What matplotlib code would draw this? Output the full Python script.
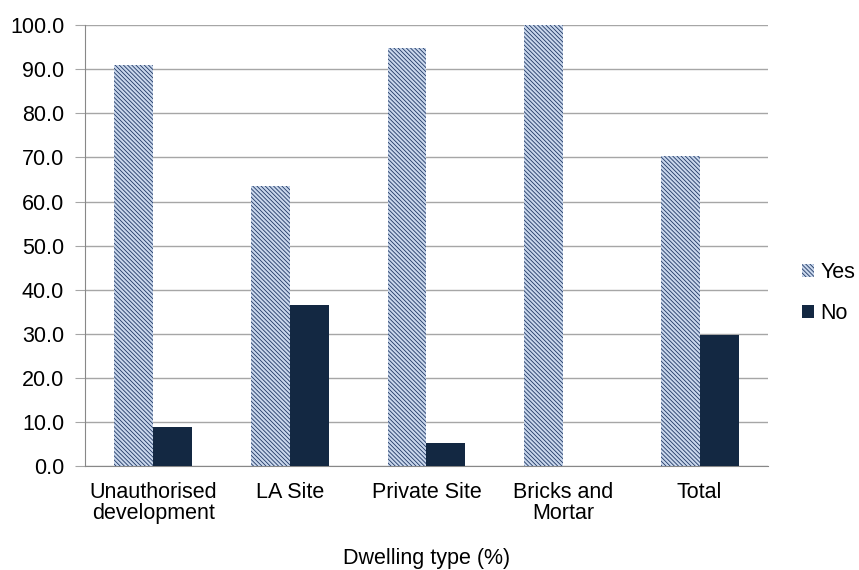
import numpy as np
import matplotlib.pyplot as plt

plt.rcParams['font.family'] = ['Liberation Sans', 'DejaVu Sans']
plt.rcParams['hatch.linewidth'] = 0.6
plt.rcParams['hatch.color'] = '#1f3864'

# data
categories = ['Unauthorised\ndevelopment', 'LA Site', 'Private Site', 'Bricks and\nMortar', 'Total']
yes_vals = [91.0, 63.5, 94.7, 100.0, 70.3]
no_vals = [9.0, 36.5, 5.3, 0.0, 29.7]

fig = plt.figure(figsize=(8.59, 5.70), dpi=100)
ax = fig.add_axes([0.099, 0.182, 0.795, 0.774])

x = np.arange(len(categories))
w = 0.285
fs = 15.5
ax.bar(x - w/2, yes_vals, w, facecolor='#c9d7ec', edgecolor='#1f3864',
       hatch='\\' * 8, linewidth=0, label='Yes', zorder=3)
ax.bar(x + w/2, no_vals, w, color='#132842', label='No', zorder=3)

ax.set_xlim(-0.5, len(categories) - 0.5)
ax.set_ylim(0, 100)
ax.set_yticks(np.arange(0, 101, 10))
ax.set_yticklabels(['%.1f' % v for v in np.arange(0, 101, 10)], fontsize=fs)
ax.set_xticks(x)
ax.set_xticklabels(categories, fontsize=fs, linespacing=1.05)
ax.tick_params(axis='x', length=0, pad=11)
ax.tick_params(axis='y', length=7, color='#a6a6a6', pad=8)
ax.grid(axis='y', color='#a6a6a6', linewidth=1, zorder=0)
for s in ['top', 'right']:
    ax.spines[s].set_visible(False)
ax.spines['left'].set_color('#888888')
ax.spines['bottom'].set_color('#888888')
ax.set_xlabel('Dwelling type (%)', fontsize=fs, labelpad=17)

leg = ax.legend(loc='center left', bbox_to_anchor=(1.022, 0.393), frameon=False,
                fontsize=fs, handlelength=0.55, handleheight=0.55,
                handletextpad=0.3, labelspacing=0.95)

fig.savefig('out.png', dpi=100)
